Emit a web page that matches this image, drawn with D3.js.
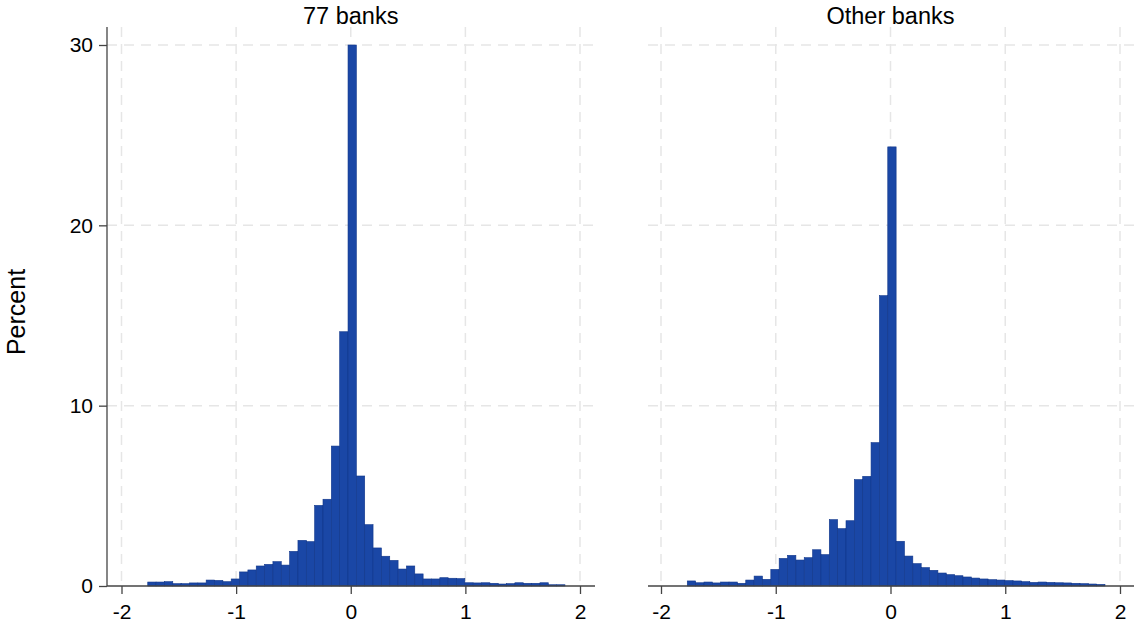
<!DOCTYPE html>
<html>
<head>
<meta charset="utf-8">
<script src="https://cdn.jsdelivr.net/npm/d3@7"></script>
<style>
  body { margin: 0; background: #fff; }
  text { font-family: "Liberation Sans", Arial, sans-serif; fill: #000; }
</style>
</head>
<body>
<div id="chart"></div>
<script>
/* two-panel histogram, 50 bins shared by both panels */

const binStart = -1.771,
  binWidth = 0.0728;

const panelTitles = ["77 banks", "Other banks"];

const banks77 = [0.22, 0.22, 0.24, 0.13, 0.13, 0.17, 0.17, 0.33, 0.31, 0.24,
  0.39, 0.78, 0.89, 1.11, 1.2, 1.35, 1.16, 1.92, 2.53, 2.46,
  4.47, 4.81, 7.76, 14.1, 30.0, 6.1, 3.4, 2.11, 1.65, 1.42,
  0.94, 1.11, 0.67, 0.39, 0.39, 0.46, 0.43, 0.41, 0.18, 0.17,
  0.18, 0.15, 0.11, 0.13, 0.18, 0.15, 0.15, 0.18, 0.07, 0.07];

const otherBanks = [0.28, 0.18, 0.22, 0.17, 0.22, 0.22, 0.15, 0.33, 0.55, 0.37,
  0.92, 1.53, 1.70, 1.44, 1.57, 2.01, 1.74, 3.68, 3.18, 3.62,
  5.90, 6.08, 7.95, 16.1, 24.35, 2.48, 1.66, 1.24, 1.02, 0.87,
  0.72, 0.63, 0.57, 0.50, 0.44, 0.39, 0.35, 0.33, 0.30, 0.28,
  0.24, 0.20, 0.22, 0.20, 0.18, 0.17, 0.15, 0.13, 0.11, 0.09];

const xTicks = [-2, -1, 0, 1, 2];
const yTicks = [0, 10, 20, 30];

const width = 1136, height = 628;

const svg = d3.select("#chart")
  .append("svg")
  .attr("width", width)
  .attr("height", height);

const y = d3.scaleLinear()
  .domain([0, 30])
  .range([586, 45]);

const plotTop = 27;

const panels = [
  { title: panelTitles[0], values: banks77, left: 107, right: 595, r0: 121.5, r1: 580, yAxis: true },
  { title: panelTitles[1], values: otherBanks, left: 648, right: 1134, r0: 661, r1: 1120, yAxis: false }
];

const gridColor = "#e6e6e6";
const barFill = "#1a47a6", barEdge = "#10368a";

panels.forEach(p => {
  const x = d3.scaleLinear().domain([-2, 2]).range([p.r0, p.r1]);
  const g = svg.append("g");

  // horizontal grid
  g.selectAll(".hgrid")
    .data(yTicks.filter(d => d > 0))
    .join("line")
    .attr("x1", p.left).attr("x2", p.right)
    .attr("y1", d => y(d)).attr("y2", d => y(d))
    .attr("stroke", gridColor).attr("stroke-width", 1.5)
    .attr("stroke-dasharray", "10,7");

  // vertical grid
  g.selectAll(".vgrid")
    .data(xTicks)
    .join("line")
    .attr("x1", d => x(d)).attr("x2", d => x(d))
    .attr("y1", plotTop).attr("y2", y(0))
    .attr("stroke", gridColor).attr("stroke-width", 1.5)
    .attr("stroke-dasharray", "10,7");

  // bars
  const bins = p.values.map((v, i) => ({
    x0: binStart + i * binWidth,
    x1: binStart + (i + 1) * binWidth,
    v: v
  }));

  g.selectAll("rect")
    .data(bins)
    .join("rect")
    .attr("x", d => x(d.x0))
    .attr("width", d => x(d.x1) - x(d.x0))
    .attr("y", d => y(d.v))
    .attr("height", d => y(0) - y(d.v))
    .attr("fill", barFill)
    .attr("stroke", barEdge)
    .attr("stroke-width", 0.6);

  // x axis
  const xAxis = g.append("g")
    .attr("transform", `translate(0,${y(0)})`)
    .call(d3.axisBottom(x).tickValues(xTicks).tickSize(8).tickSizeOuter(0)
      .tickFormat(d3.format("d")));
  xAxis.select(".domain").remove();
  xAxis.selectAll(".tick line").attr("stroke", "#444").attr("stroke-width", 1.3);
  xAxis.selectAll(".tick text")
    .style("font-size", "21px")
    .attr("y", 33)
    .attr("dy", null)
    .style("font-family", '"Liberation Sans", Arial, sans-serif')
    .text(d => d < 0 ? "-" + Math.abs(d) : d);
  g.append("line")
    .attr("x1", p.left).attr("x2", p.right)
    .attr("y1", y(0)).attr("y2", y(0))
    .attr("stroke", "#444").attr("stroke-width", 1.3);

  if (p.yAxis) {
    const yAxis = g.append("g")
      .attr("transform", `translate(${p.left},0)`)
      .call(d3.axisLeft(y).tickValues(yTicks).tickSize(8).tickSizeOuter(0));
    yAxis.select(".domain").remove();
    yAxis.selectAll(".tick line").attr("stroke", "#444").attr("stroke-width", 1.3);
    yAxis.selectAll(".tick text")
      .style("font-size", "21px")
      .attr("x", -14)
      .style("font-family", '"Liberation Sans", Arial, sans-serif');
    g.append("line")
      .attr("x1", p.left).attr("x2", p.left)
      .attr("y1", plotTop).attr("y2", y(0))
      .attr("stroke", "#444").attr("stroke-width", 1.3);
  }

  // panel title
  svg.append("text")
    .attr("x", x(0))
    .attr("y", 24)
    .attr("text-anchor", "middle")
    .attr("font-size", 23.5)
    .text(p.title);
});

svg.append("text")
  .attr("transform", `translate(25,312) rotate(-90)`)
  .attr("text-anchor", "middle")
  .attr("font-size", 25)
  .text("Percent");
</script>
</body>
</html>
